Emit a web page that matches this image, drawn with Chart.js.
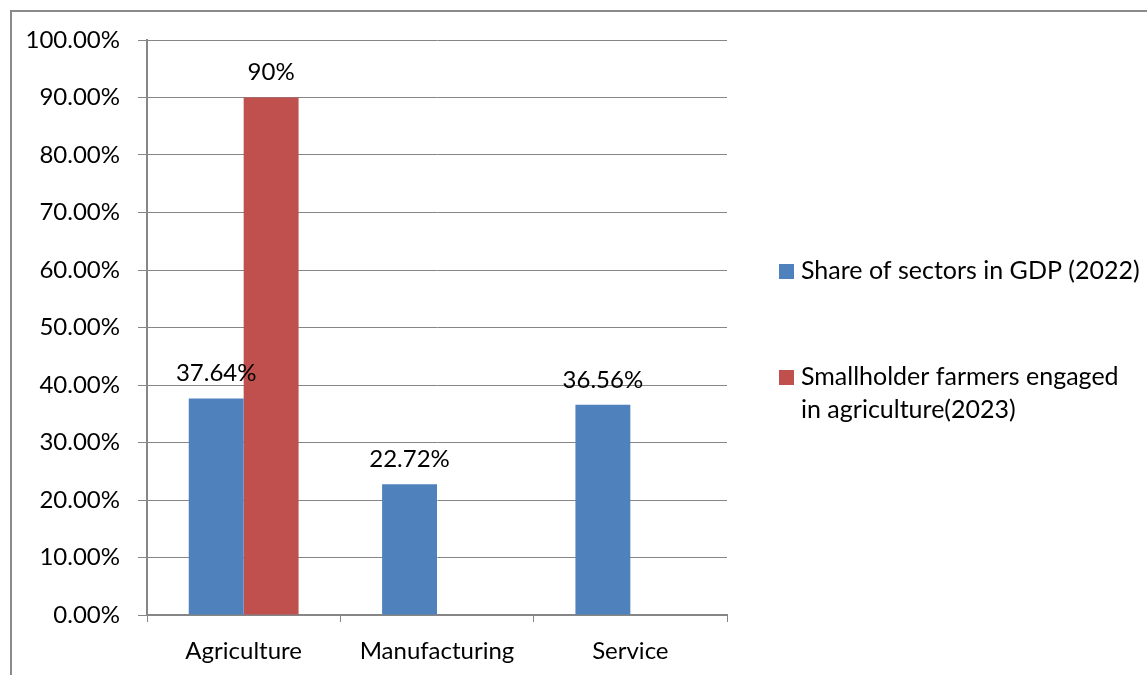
<!DOCTYPE html>
<html><head><meta charset="utf-8">
<script src="https://cdn.jsdelivr.net/npm/chart.js@4/dist/chart.umd.min.js"></script>
<style>html,body{margin:0;padding:0;background:#fff;}#wrap{width:1147px;height:675px;position:relative;}</style>
</head><body><div id="wrap"><canvas id="c" width="1147" height="675"></canvas></div>
<script>
const categories = ['Agriculture', 'Manufacturing', 'Service'];
const seriesNames = ['Share of sectors in GDP (2022)', 'Smallholder farmers engaged in agriculture(2023)'];
const gdpShare = [0.3764, 0.2272, 0.3656];
const smallholder = [0.90, null, null];
const gdpLabels = ['37.64%', '22.72%', '36.56%'];
const smallholderLabels = ['90%', '', ''];
const legendLines = [['Share of sectors in GDP (2022)'], ['Smallholder farmers engaged', 'in agriculture(2023)']];
const colors = ['#4F81BD', '#C0504D'];

const FONT = 'Lato, "Liberation Sans", sans-serif';
const FS = 24;

const framePlugin = {
  id: 'frame',
  beforeDraw(chart) {
    const ctx = chart.ctx;
    ctx.save();
    ctx.fillStyle = '#fff';
    ctx.fillRect(0, 0, chart.width, chart.height);
    ctx.strokeStyle = '#8a8a8a';
    ctx.lineWidth = 2;
    ctx.beginPath();
    ctx.moveTo(11, 700);
    ctx.lineTo(11, 11);
    ctx.lineTo(1160, 11);
    ctx.stroke();
    ctx.restore();
  }
};

const labelPlugin = {
  id: 'valueLabels',
  afterDatasetsDraw(chart) {
    const ctx = chart.ctx;
    const texts = [gdpLabels, smallholderLabels];
    ctx.save();
    ctx.font = FS + 'px ' + FONT;
    ctx.fillStyle = '#000';
    ctx.textAlign = 'center';
    ctx.textBaseline = 'bottom';
    chart.data.datasets.forEach((ds, i) => {
      const meta = chart.getDatasetMeta(i);
      meta.data.forEach((bar, j) => {
        if (ds.data[j] == null) return;
        ctx.fillText(texts[i][j], bar.x, bar.y - 13);
      });
    });
    ctx.restore();
  }
};

const legendPlugin = {
  id: 'sideLegend',
  afterDraw(chart) {
    const ctx = chart.ctx;
    ctx.save();
    ctx.font = '25px ' + FONT;
    ctx.textBaseline = 'middle';
    ctx.textAlign = 'left';
    const items = [{y: 271}, {y: 377}];
    items.forEach((it, i) => {
      ctx.fillStyle = colors[i];
      ctx.fillRect(779, it.y - 7, 15, 15);
      ctx.fillStyle = '#000';
      legendLines[i].forEach((line, k) => {
        ctx.fillText(line, 801, it.y + k * 33);
      });
    });
    ctx.restore();
  }
};

new Chart(document.getElementById('c'), {
  type: 'bar',
  data: {
    labels: categories,
    datasets: [
      {label: seriesNames[0], data: gdpShare, backgroundColor: colors[0]},
      {label: seriesNames[1], data: smallholder, backgroundColor: colors[1]}
    ]
  },
  options: {
    responsive: false,
    animation: false,
    devicePixelRatio: 1,
    layout: {padding: {left: 0, top: 40, right: 420, bottom: 0}},
    plugins: {legend: {display: false}, tooltip: {enabled: false}},
    datasets: {bar: {categoryPercentage: 0.568, barPercentage: 1.0}},
    scales: {
      x: {
        grid: {display: true, drawOnChartArea: false, drawTicks: true, tickLength: 7, offset: true, color: '#868686', lineWidth: 1},
        border: {display: true, color: '#868686', width: 2},
        ticks: {color: '#000', font: {family: FONT, size: FS}, padding: 15},
        afterFit(s) { s.height = 60; }
      },
      y: {
        min: 0, max: 1,
        grid: {color: '#868686', lineWidth: 1, tickLength: 9, drawTicks: true},
        border: {display: true, color: '#868686', width: 2},
        ticks: {stepSize: 0.1, color: '#000', font: {family: FONT, size: FS}, padding: 18,
          callback: v => (v * 100).toFixed(2) + '%'},
        afterFit(s) { s.width = 147; }
      }
    }
  },
  plugins: [framePlugin, labelPlugin, legendPlugin]
});
</script></body></html>
